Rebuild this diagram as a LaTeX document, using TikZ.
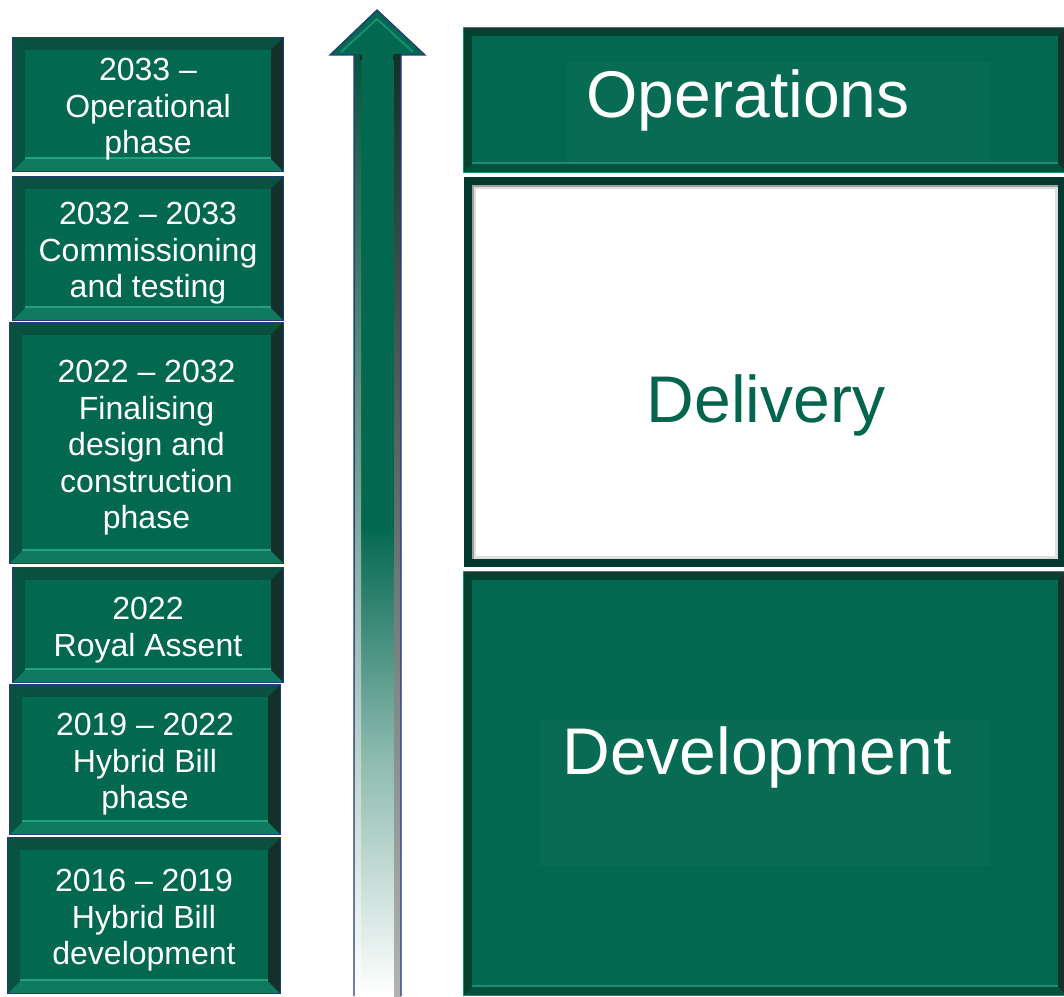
\documentclass[tikz,border=0pt]{standalone}
\usepackage{fontspec}
\setmainfont{Liberation Sans}
\usetikzlibrary{backgrounds}
\definecolor{face}{HTML}{036850}
\definecolor{facelt}{HTML}{086C55}
\definecolor{navy}{HTML}{253B7A}
\definecolor{bevtop}{HTML}{0A5040}
\definecolor{bevleft}{HTML}{08533F}
\definecolor{bevbot}{HTML}{0F7A5F}
\definecolor{bevhi}{HTML}{22A080}
\definecolor{bevright}{HTML}{14302A}
\definecolor{rtop}{HTML}{04412F}
\definecolor{rbot}{HTML}{05503D}
\definecolor{rline}{HTML}{1A8E72}
\definecolor{delframe}{HTML}{043A2D}
\definecolor{deltext}{HTML}{04654E}
\newcommand{\bevelit}[8]{%
\begin{pgfonlayer}{background}
\fill[face] (#1.south west) rectangle (#1.north east);
\fill[#3] (#1.north west) -- (#1.north east) -- ([shift={(-#2,-#2)}]#1.north east) -- ([shift={(#2,-#2)}]#1.north west) -- cycle;
\fill[#5] (#1.south west) -- (#1.south east) -- ([shift={(-#2,#2)}]#1.south east) -- ([shift={(#2,#2)}]#1.south west) -- cycle;
\draw[#8, line width=2] ([shift={(#2,#2+1)}]#1.south west) -- ([shift={(-#2,#2+1)}]#1.south east);
\fill[#4] (#1.south west) -- (#1.north west) -- ([shift={(#2,-#2)}]#1.north west) -- ([shift={(#2,#2)}]#1.south west) -- cycle;
\fill[#6] (#1.south east) -- (#1.north east) -- ([shift={(-#2,-#2)}]#1.north east) -- ([shift={(-#2,#2)}]#1.south east) -- cycle;
\draw[#7, line width=1.2] (#1.south west) rectangle (#1.north east);
\end{pgfonlayer}}
\tikzset{
  lbox/.style={rectangle, inner sep=0pt},
  ltext/.style={text=white, align=center, inner sep=0pt, yshift=-5pt,
    font=\fontsize{32}{36.5}\selectfont},
  rbox/.style={rectangle, inner sep=0pt, minimum width=602pt},
  bigwhite/.style={text=white, inner sep=0pt, font=\fontsize{66}{79}\selectfont},
  biggreen/.style={text=deltext, inner sep=0pt, font=\fontsize{66}{79}\selectfont},
}
\begin{document}
\begin{tikzpicture}[x=1pt,y=1pt]
\useasboundingbox (0,0) rectangle (1064,996);
\begin{pgfonlayer}{background}
\fill[white] (0,0) rectangle (1064,996);
\end{pgfonlayer}

% ---- left timeline boxes ----
\node[lbox, minimum width=270pt, minimum height=133pt, label={[ltext]center:{2033 –\\Operational\\phase}}] (b1) at (148,891.5) {};
\node[lbox, minimum width=270pt, minimum height=143pt, label={[ltext]center:{2032 – 2033\\Commissioning\\and testing}}] (b2) at (148,747.5) {};
\node[lbox, minimum width=273pt, minimum height=240pt, label={[ltext]center:{2022 – 2032\\Finalising\\design and\\construction\\phase}}] (b3) at (146.5,553) {};
\node[lbox, minimum width=270pt, minimum height=114pt, label={[ltext]center:{2022\\Royal Assent}}] (b4) at (148,371) {};
\node[lbox, minimum width=270pt, minimum height=149pt, label={[ltext]center:{2019 – 2022\\Hybrid Bill\\phase}}] (b5) at (145,236.5) {};
\node[lbox, minimum width=272pt, minimum height=155pt, label={[ltext]center:{2016 – 2019\\Hybrid Bill\\development}}] (b6) at (144,80.5) {};
\foreach \b in {b1,b2,b3,b4,b5,b6}{\bevelit{\b}{12}{bevtop}{bevleft}{bevbot}{bevright}{navy}{bevhi}}

% ---- arrow ----
\fill[face] (354,470) rectangle (401,941);
\shade[top color=face, bottom color=white, middle color=face!45!white] (354,0) rectangle (401,470);
\fill[face] (330,941) -- (377,986) -- (425,941) -- cycle;
\shade[top color=bevleft, bottom color=white] (355.5,0) rectangle (361,941);
\shade[top color=bevright, bottom color=gray!60] (394,0) rectangle (401,941);
\draw[rline, line width=2] (341,944) -- (377,977) -- (413,944);
\draw[bevright, line width=1.5] (361,941) -- (361,936);
\draw[bevright, line width=1.5] (394,941) -- (394,936);
\draw[navy, line width=1.3, line join=miter] (354,0) -- (354,941) -- (330,941) -- (377,986) -- (425,941) -- (401,941) -- (401,0);

% ---- right phase boxes ----
\node[rbox, minimum height=144pt] (ops) at (765,896) {};
\bevelit{ops}{8}{rtop}{rtop}{rbot}{bevright}{rline}{rline}
\node[rbox, minimum height=390pt] (del) at (765,624) {};
\begin{pgfonlayer}{background}
\fill[delframe] (del.south west) rectangle (del.north east);
\fill[gray!75] ([shift={(8,8)}]del.south west) rectangle ([shift={(-8,-8)}]del.north east);
\fill[gray!25] ([shift={(10,8)}]del.south west) rectangle ([shift={(-8,-10)}]del.north east);
\fill[white] ([shift={(12,11)}]del.south west) rectangle ([shift={(-11,-12)}]del.north east);
\end{pgfonlayer}
\node[rbox, minimum height=423pt] (dev) at (765,212.5) {};
\bevelit{dev}{8}{rtop}{rtop}{rbot}{bevright}{rline}{rline}

% faint text panels
\fill[facelt] (567,834) rectangle (990,934);
\fill[facelt] (540,130) rectangle (990,276);

\node[bigwhite] (opst) at (748,896) {Operations};
\node[biggreen] (delt) at (766,591) {Delivery};
\node[bigwhite] (devt) at (757,239) {Development};
\end{tikzpicture}
\end{document}
